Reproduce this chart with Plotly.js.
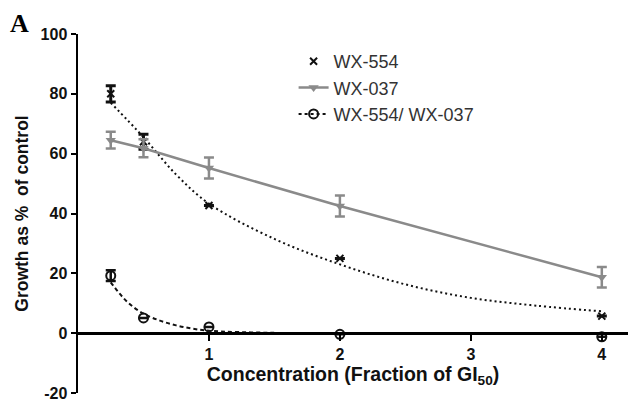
<!DOCTYPE html>
<html>
<head>
<meta charset="utf-8">
<script src="https://cdn.plot.ly/plotly-3.0.1.min.js"></script>
<style>html,body{margin:0;padding:0;background:#fff;}#chart{width:628px;height:402px;}</style>
</head>
<body>
<div id="chart"></div>
<script>
// Concentration (fraction of GI50)
const conc = [0.25, 0.5, 1, 2, 4];
// Measured growth (% of control) with error
const wx554 = [80, 64, 42.7, 25, 5.7];
const wx554Err = [2.7, 2.5, 0, 0, 0];
const wx037 = [64.5, 61.8, 55.2, 42.5, 18.7];
const wx037Err = [2.8, 3.0, 3.5, 3.5, 3.4];
const combo = [19.2, 5.1, 2.1, -0.4, -1.2];
const comboErr = [1.8, 0, 0, 0, 0];
// Fitted curves
const fitX554 = [0.25, 0.5, 0.75, 1, 1.5, 2, 2.5, 3, 3.5, 4];
const fit554 = [77, 65.5, 53, 43.3, 31.5, 23, 16.3, 11.8, 9.2, 7.3];
const fitXCombo = [0.25, 0.375, 0.5, 0.625, 0.75, 0.875, 1, 1.5, 2, 3, 4];
const fitCombo = [17, 10.5, 6.5, 4.2, 2.6, 1.5, 0.8, 0.1, 0, 0, 0];
const yTicks = [-20, 0, 20, 40, 60, 80, 100];
const xTicks = [1, 2, 3, 4];

const traces = [
  {x: fitX554, y: fit554, mode: 'lines', line: {color: '#111', width: 2, dash: '2px,3px', shape: 'spline'}, showlegend: false, hoverinfo: 'skip'},
  {x: fitXCombo, y: fitCombo, mode: 'lines', line: {color: '#111', width: 2, dash: '4px,3px', shape: 'spline'}, showlegend: false, hoverinfo: 'skip'},
  {x: conc, y: wx554, name: 'WX-554', mode: 'markers',
   marker: {symbol: 'x-thin-open', size: 7, color: '#111', line: {width: 2, color: '#111'}},
   error_y: {type: 'data', array: wx554Err, color: '#111', thickness: 3, width: 5}},
  {x: conc, y: wx037, name: 'WX-037', mode: 'lines+markers',
   line: {color: '#8a8a8a', width: 2.5},
   marker: {symbol: 'triangle-down', size: 9, color: '#8a8a8a'},
   error_y: {type: 'data', array: wx037Err, color: '#8a8a8a', thickness: 2.5, width: 5}},
  {x: conc, y: combo, name: 'WX-554/ WX-037', mode: 'markers', showlegend: false,
   marker: {symbol: 'circle-open', size: 9, color: '#111', line: {width: 2, color: '#111'}},
   error_y: {type: 'data', array: comboErr, color: '#111', thickness: 2.5, width: 5}},
  {x: [null], y: [null], name: 'WX-554/ WX-037', mode: 'lines+markers',
   line: {color: '#111', width: 2, dash: '3px,3px'},
   marker: {symbol: 'circle-open', size: 9, color: '#111', line: {width: 2, color: '#111'}}}
];

const layout = {
  width: 628, height: 402,
  margin: {l: 78, r: 0, t: 34, b: 9},
  paper_bgcolor: '#fff', plot_bgcolor: '#fff',
  font: {family: 'Liberation Sans, Arial, sans-serif', color: '#111'},
  showlegend: true,
  legend: {x: 0.392, y: 0.975, xanchor: 'left', yanchor: 'top', bgcolor: 'rgba(0,0,0,0)',
    font: {size: 18, color: '#333'}, traceorder: 'normal', tracegroupgap: 0},
  xaxis: {
    range: [0, 4.2], anchor: 'free', position: 20/120,
    tickvals: xTicks, ticktext: xTicks.map(String),
    showline: true, linecolor: '#000', linewidth: 2.5,
    ticks: 'outside', ticklen: 6, tickwidth: 2, tickcolor: '#000',
    showgrid: false, zeroline: false,
    tickfont: {size: 16, family: 'Liberation Sans, Arial, sans-serif', weight: 'bold', color: '#111'},
    title: {text: '<b>Concentration (Fraction of GI<sub>50</sub>)</b>', font: {size: 19.5, color: '#111'}, standoff: 5}
  },
  yaxis: {
    range: [-20, 100],
    tickvals: yTicks, ticktext: yTicks.map(String),
    ticklabeloverflow: 'allow',
    showline: true, linecolor: '#000', linewidth: 2.5,
    ticks: 'outside', ticklen: 5, tickwidth: 2, tickcolor: '#000',
    showgrid: false, zeroline: false,
    tickfont: {size: 16, family: 'Liberation Sans, Arial, sans-serif', weight: 'bold', color: '#111'},
    title: {text: '<b>Growth as %  of control</b>', font: {size: 17.5, color: '#111'}, standoff: 8}
  },
  annotations: [{
    text: '<b>A</b>', xref: 'paper', yref: 'paper', x: -0.128, y: 1.03,
    xanchor: 'left', yanchor: 'middle', showarrow: false,
    font: {family: 'Liberation Serif, Times New Roman, serif', size: 26, color: '#000'}
  }]
};

Plotly.newPlot('chart', traces, layout, {displayModeBar: false, staticPlot: true});
</script>
</body>
</html>
